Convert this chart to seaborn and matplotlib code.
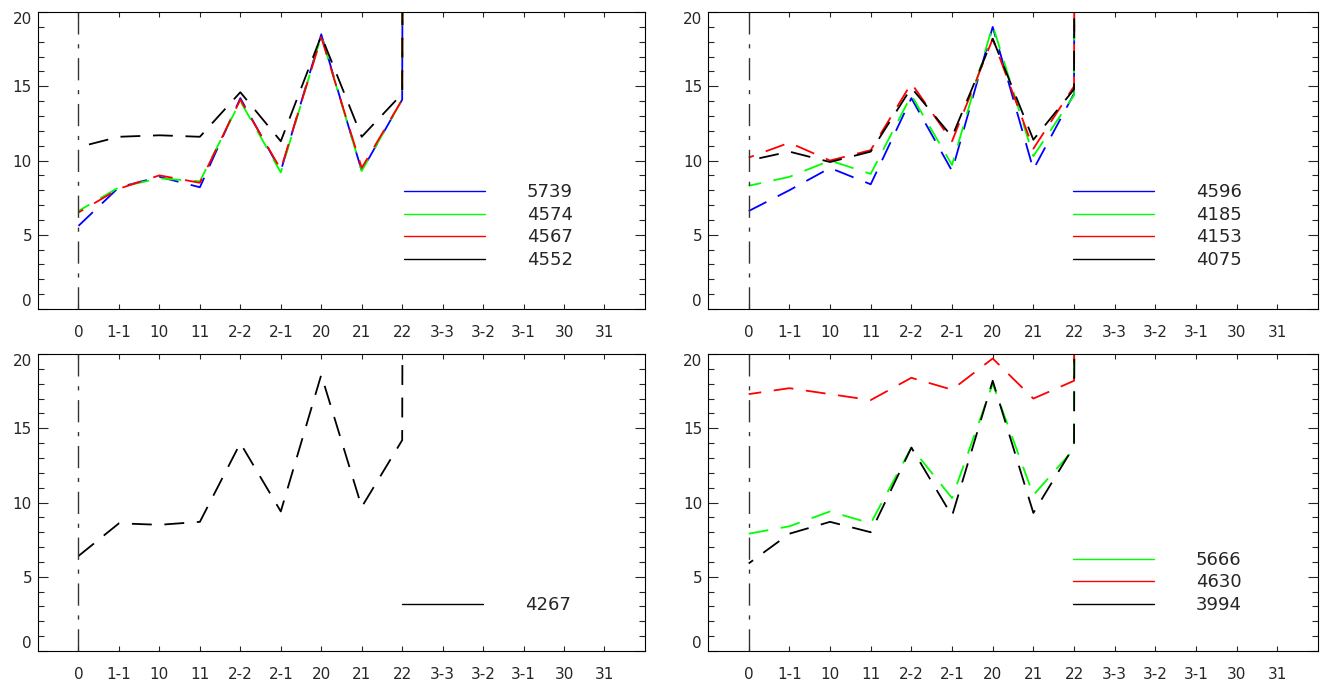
import numpy as np
import matplotlib
matplotlib.use('Agg')
import matplotlib.pyplot as plt
import seaborn as sns
from matplotlib.lines import Line2D
from matplotlib.ticker import MultipleLocator

categories = ['0', '1-1', '10', '11', '2-2', '2-1', '20', '21', '22',
              '3-3', '3-2', '3-1', '30', '31']

# the curves shoot off the top of the plot after "22"
OFF = 1000.0

# top left
tl_names = ['5739', '4574', '4567', '4552']
tl_colors = ['blue', 'lime', 'red', 'black']
tl_blue = [5.6, 8.2, 8.9, 8.2, 14.2, 9.3, 18.5, 9.3, 14.1, OFF]
tl_green = [6.6, 8.2, 8.8, 8.6, 14.0, 9.2, 18.4, 9.3, 14.1, OFF]
tl_red = [6.5, 8.1, 9.0, 8.5, 14.1, 9.4, 18.3, 9.5, 14.1, OFF]
tl_black = [10.9, 11.6, 11.7, 11.6, 14.6, 11.3, 18.4, 11.6, 14.5, OFF]

# top right
tr_names = ['4596', '4185', '4153', '4075']
tr_colors = ['blue', 'lime', 'red', 'black']
tr_blue = [6.6, 8.0, 9.5, 8.4, 14.2, 9.3, 19.0, 9.4, 14.5, OFF]
tr_green = [8.3, 8.9, 10.0, 9.1, 14.4, 9.7, 19.1, 10.3, 14.4, OFF]
tr_red = [10.2, 11.2, 10.0, 10.7, 15.2, 11.3, 18.2, 10.8, 15.0, OFF]
tr_black = [10.0, 10.6, 9.9, 10.6, 14.9, 11.6, 18.2, 11.4, 14.8, OFF]

# bottom left
bl_names = ['4267']
bl_colors = ['black']
bl_black = [6.4, 8.6, 8.5, 8.7, 14.0, 9.4, 18.6, 9.7, 14.2, OFF]

# bottom right
br_names = ['5666', '4630', '3994']
br_colors = ['lime', 'red', 'black']
br_green = [7.9, 8.4, 9.4, 8.6, 13.7, 10.3, 18.0, 10.5, 13.6, OFF]
br_red = [17.3, 17.7, 17.3, 16.9, 18.4, 17.6, 19.7, 17.0, 18.2, OFF]
br_black = [5.9, 7.9, 8.7, 8.0, 13.7, 9.1, 18.2, 9.3, 13.8, OFF]

panels = [
    ([0.0288, 0.5482, 0.4598, 0.4342], tl_names, tl_colors,
     [tl_blue, tl_green, tl_red, tl_black], (0.603, 0.135)),
    ([0.5364, 0.5482, 0.4621, 0.4342], tr_names, tr_colors,
     [tr_blue, tr_green, tr_red, tr_black], (0.598, 0.135)),
    ([0.0288, 0.0482, 0.4598, 0.4342], bl_names, bl_colors,
     [bl_black], (0.600, 0.125)),
    ([0.5364, 0.0482, 0.4621, 0.4342], br_names, br_colors,
     [br_green, br_red, br_black], (0.598, 0.125)),
]

sns.set_style('ticks')
plt.rcParams['font.family'] = ['DejaVu Sans']
plt.rcParams['axes.linewidth'] = 0.8

fig = plt.figure(figsize=(13.2, 6.84), dpi=100)

for pos, names, colors, series, leg_anchor in panels:
    ax = fig.add_axes(pos)
    for i, (vals, c) in enumerate(zip(series, colors)):
        xs = np.arange(len(vals))
        sns.lineplot(x=xs, y=vals, color=c, ax=ax, lw=1.3,
                     linestyle=(i * 4, (11, 7)), sort=False,
                     estimator=None, errorbar=None)

    ax.axvline(0, color='#333333', lw=1.0, linestyle=(0, (16, 7, 3, 7)))

    ax.set_xlim(-1, 14)
    ax.set_ylim(0, 20)
    ax.set_xticks(range(len(categories)))
    ax.set_xticklabels(categories)
    ax.set_yticks([0, 5, 10, 15, 20])
    ax.set_yticklabels(['0', '5', '10', '15', '20'])
    ax.yaxis.set_minor_locator(MultipleLocator(1))

    ax.tick_params(axis='x', which='major', direction='in', length=3.6,
                   width=0.8, top=True, bottom=True, pad=11.5, labelsize=11)
    ax.tick_params(axis='y', which='major', direction='in', length=7.2,
                   width=0.8, left=True, right=True, pad=4.3, labelsize=11)
    ax.tick_params(axis='y', which='minor', direction='in', length=4.3,
                   width=0.8, left=True, right=True)
    ax.tick_params(axis='x', which='minor', bottom=False, top=False)

    yt = ax.yaxis.get_major_ticks()
    yt[0].label1.set_va('bottom')
    yt[-1].label1.set_va('top')

    ax.set_xlabel('')
    ax.set_ylabel('')
    for s in ax.spines.values():
        s.set_color('black')
        s.set_linewidth(0.8)

    handles = [Line2D([], [], color=c, lw=1.0) for c in colors]
    ax.legend(handles, names, loc='lower left', bbox_to_anchor=leg_anchor,
              frameon=False, fontsize=13, handlelength=4.5,
              handletextpad=2.3, labelspacing=0.25, borderpad=0,
              borderaxespad=0)

fig.savefig('out.png', dpi=100)
